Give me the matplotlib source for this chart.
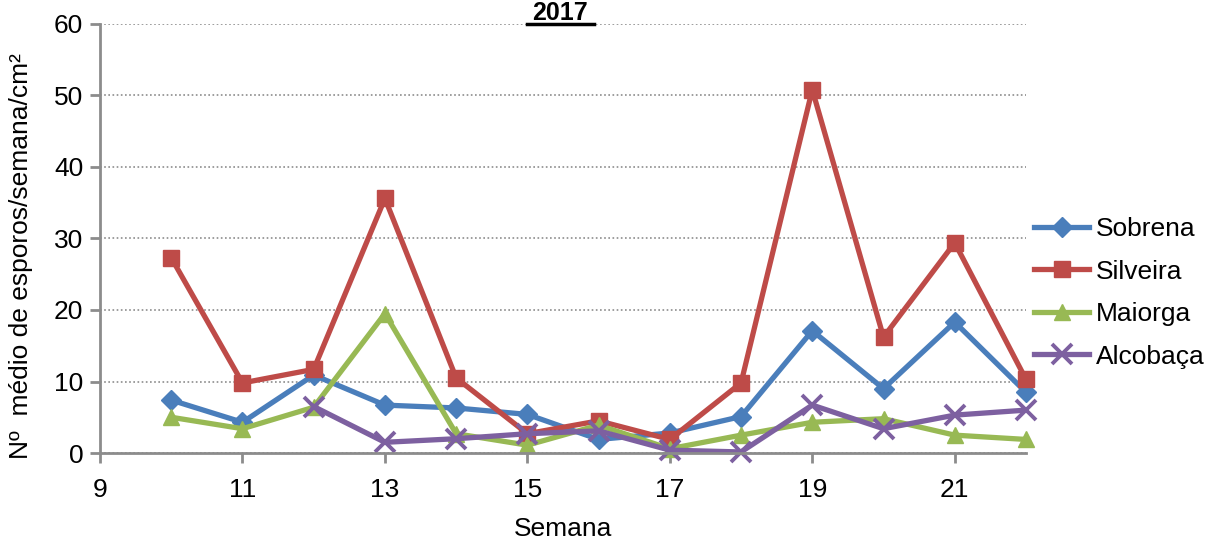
import matplotlib
matplotlib.use("Agg")
import matplotlib.pyplot as plt
from matplotlib.lines import Line2D

plt.rcParams['font.family'] = ['Liberation Sans', 'DejaVu Sans']

# Data
semanas = [10, 11, 12, 13, 14, 15, 16, 17, 18, 19, 20, 21, 22]
sobrena = [7.4, 4.3, 10.9, 6.7, 6.3, 5.4, 1.9, 2.8, 5.1, 17.1, 9.0, 18.3, 8.5]
silveira = [27.3, 9.8, 11.7, 35.6, 10.5, 2.7, 4.5, 1.9, 9.8, 50.8, 16.2, 29.4, 10.3]
maiorga = [5.0, 3.4, 6.4, 19.5, 2.7, 1.1, 3.9, 0.6, 2.5, 4.3, 4.8, 2.5, 1.9]
semanas_alc = [12, 13, 14, 15, 16, 17, 18, 19, 20, 21, 22]
alcobaca = [6.5, 1.5, 2.0, 2.7, 3.1, 0.4, 0.15, 6.7, 3.4, 5.3, 6.0]

fig = plt.figure(figsize=(12.08, 5.43), dpi=100)
ax = fig.add_axes([0.0828, 0.1657, 0.7665, 0.7903])

lw = 3.8
ms = 11
ax.plot(semanas, sobrena, color='#4A7EBB', lw=lw, marker='D', ms=ms - 1,
        label='Sobrena', clip_on=False)
ax.plot(semanas, silveira, color='#BE4B48', lw=lw, marker='s', ms=ms,
        label='Silveira', clip_on=False)
ax.plot(semanas, maiorga, color='#98B954', lw=lw, marker='^', ms=ms + 1,
        label='Maiorga', clip_on=False)
ax.plot(semanas_alc, alcobaca, color='#7D60A0', lw=lw, marker='x', ms=ms + 3,
        mew=2.8, label='Alcobaça', clip_on=False)

ax.set_xlim(9, 22)
ax.set_ylim(0, 60)
ax.set_xticks(range(9, 22, 2))
ax.set_yticks(range(0, 61, 10))
ax.yaxis.grid(True, linestyle=(0, (1, 1.5)), color='#8c8c8c', lw=1.2)
ax.set_axisbelow(True)

for s in ['top', 'right']:
    ax.spines[s].set_visible(False)
for s in ['left', 'bottom']:
    ax.spines[s].set_color('#8c8c8c')
    ax.spines[s].set_linewidth(2)
ax.tick_params(axis='both', colors='#8c8c8c', length=7, width=2, labelsize=19,
               labelcolor='black')
ax.tick_params(axis='x', pad=11)
ax.tick_params(axis='y', pad=5)

ax.set_xlabel('Semana', fontsize=19, labelpad=11)
ax.set_ylabel('Nº  médio de esporos/semana/cm²', fontsize=19)
ax.yaxis.set_label_coords(-0.072, 0.46)

# Title "2017" bold and underlined
fig.text(560 / 1208, 1 - 19.5 / 543, '2017', fontsize=18, fontweight='bold',
         ha='center', va='baseline')
fig.add_artist(Line2D([527 / 1208, 594 / 1208], [1 - 23.5 / 543, 1 - 23.5 / 543],
                      color='black', lw=2.5))

ax.legend(loc='center left', bbox_to_anchor=(1.0, 0.373), frameon=False,
          fontsize=19, handlelength=2.1, handletextpad=0.25, labelspacing=0.7,
          borderaxespad=0.1, borderpad=0.2)

fig.savefig('out.png', dpi=100)
